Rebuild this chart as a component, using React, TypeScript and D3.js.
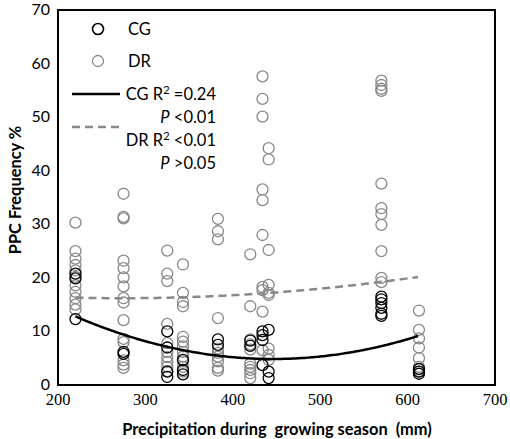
import React from "react";
import * as d3 from "d3";

const W = 510;
const H = 439;

const cgX = [220, 220, 220, 275, 275, 325, 325, 325, 325, 343, 343, 343, 383, 383, 420, 420, 434, 434, 434, 434, 441, 441, 441, 570, 570, 570, 570, 570, 570, 613, 613, 613];
const cgY = [12.3, 19.9, 20.8, 6.2, 5.8, 10.0, 7.0, 2.5, 1.5, 4.7, 2.8, 2.0, 8.5, 7.5, 8.3, 7.3, 10.0, 9.3, 8.4, 3.7, 10.3, 2.5, 1.3, 16.5, 16.0, 15.3, 14.4, 13.3, 12.9, 3.0, 2.5, 2.1];

const drX = [
  220, 220, 220, 220, 220, 220, 220, 220, 220, 220, 220,
  275, 275, 275, 275, 275, 275, 275, 275, 275, 275, 275, 275, 275, 275, 275,
  325, 325, 325, 325, 325, 325, 325, 325, 325, 325,
  343, 343, 343, 343, 343, 343, 343, 343, 343, 343, 343, 343,
  383, 383, 383, 383, 383, 383, 383, 383, 383, 383,
  420, 420, 420, 420, 420, 420, 420, 420, 420, 420,
  434, 434, 434, 434, 434, 434, 434, 434, 434, 434,
  441, 441, 441, 441, 441, 441, 441, 441, 441,
  570, 570, 570, 570, 570, 570, 570, 570, 570, 570, 570,
  613, 613, 613, 613, 613, 613, 613, 613,
];
const drY = [
  30.3, 25.0, 23.6, 22.4, 21.4, 20.2, 18.6, 17.4, 16.2, 15.0, 14.1,
  35.7, 31.4, 31.1, 23.2, 21.8, 20.1, 18.4, 16.2, 15.4, 12.1, 8.6, 8.0, 4.6, 3.8, 3.2,
  25.1, 20.8, 19.4, 11.4, 7.8, 6.2, 5.2, 4.3, 3.4, 2.6,
  22.5, 17.2, 15.5, 14.7, 9.0, 8.1, 7.2, 6.2, 5.3, 4.4, 3.4, 2.5,
  31.0, 28.7, 27.2, 12.5, 6.8, 6.0, 5.3, 4.4, 3.2, 2.7,
  24.4, 14.7, 8.5, 7.6, 6.6, 4.0, 3.4, 2.8, 2.2, 1.3,
  57.6, 53.4, 50.1, 36.5, 34.5, 28.0, 18.3, 17.7, 13.7, 6.5,
  44.2, 42.1, 25.2, 18.7, 17.2, 16.8, 6.8, 5.6, 4.7,
  56.8, 56.0, 55.3, 54.9, 37.6, 33.0, 31.9, 29.9, 25.0, 20.0, 19.2,
  13.9, 10.3, 8.7, 7.0, 5.0, 3.4, 2.9, 2.5,
];

// quadratic fit coefficients [a, b, c] for y = a x^2 + b x + c
const cgFit = [0.00015551, -0.1387, 35.787];
const drFit = [0.00003455, -0.018859, 18.777];
const fitRange = [220, 613];

const xTicks = [200, 300, 400, 500, 600, 700];
const yTicks = [0, 10, 20, 30, 40, 50, 60, 70];

const xLabel = "Precipitation during  growing season  (mm)";
const yLabel = "PPC Frequency %";

export default function App() {
  const left = 58, right = 495, top = 10, bottom = 385;
  const x = d3.scaleLinear().domain([200, 700]).range([left, right]);
  const y = d3.scaleLinear().domain([0, 70]).range([bottom, top]);
  const sans = "Lato, 'Open Sans', sans-serif";
  const serif = "'Liberation Serif', 'DejaVu Serif', serif";

  const samples = d3.range(fitRange[0], fitRange[1] + 0.5, 2);
  const fitLine = (c: number[]) =>
    d3.line<number>()
      .x((v) => x(v))
      .y((v) => y(c[0] * v * v + c[1] * v + c[2]))(samples) as string;

  const r = 5.5;
  const lf = 16.5;
  return (
    <svg width={W} height={H} style={{ position: "absolute", left: 0, top: 0, background: "#fff" }}>
      <rect x={0} y={0} width={W} height={H} fill="#fff" />
      {/* y tick labels */}
      {yTicks.map((t) => (
        <text key={t} x={50} y={y(t) + 5} textAnchor="end" fontFamily={sans} fontSize={16} fill="#000">{t}</text>
      ))}
      {/* x tick labels */}
      {xTicks.map((t) => (
        <text key={t} x={x(t)} y={405} textAnchor="middle" fontFamily={serif} fontSize={16.5} fill="#000">{t}</text>
      ))}
      <text x={277} y={435} textAnchor="middle" fontFamily={sans} fontWeight="bold" fontSize={16.4} fill="#000" style={{ whiteSpace: "pre" }}>{xLabel}</text>
      <text transform={`translate(21,190) rotate(-90)`} textAnchor="middle" fontFamily={sans} fontWeight="bold" fontSize={16.4} fill="#000">{yLabel}</text>

      {/* points */}
      {drX.map((v, i) => (
        <circle key={"d" + i} cx={x(v)} cy={y(drY[i])} r={r} fill="none" stroke="#888" strokeWidth={1.3} />
      ))}
      {cgX.map((v, i) => (
        <circle key={"c" + i} cx={x(v)} cy={y(cgY[i])} r={r} fill="none" stroke="#000" strokeWidth={1.3} />
      ))}
      {/* fits */}
      <path d={fitLine(drFit)} fill="none" stroke="#888" strokeWidth={2.5} strokeDasharray="8,5" />
      <path d={fitLine(cgFit)} fill="none" stroke="#000" strokeWidth={2.5} />

      {/* frame */}
      <rect x={left} y={top} width={right - left} height={bottom - top} fill="none" stroke="#000" strokeWidth={2} />

      {/* legend */}
      <circle cx={98} cy={29} r={r} fill="none" stroke="#000" strokeWidth={1.6} />
      <text x={128} y={35} fontFamily={sans} fontSize={lf} fill="#000">CG</text>
      <circle cx={98} cy={61} r={r} fill="none" stroke="#888" strokeWidth={1.3} />
      <text x={128} y={67} fontFamily={sans} fontSize={lf} fill="#000">DR</text>
      <line x1={72} x2={120} y1={94} y2={94} stroke="#000" strokeWidth={2.5} />
      <text x={216} y={100} textAnchor="end" fontFamily={sans} fontSize={lf} fill="#000">
        CG R<tspan fontSize={11} dy={-6}>2</tspan><tspan dy={6}> =0.24</tspan>
      </text>
      <text x={216} y={123} textAnchor="end" fontFamily={sans} fontSize={lf} fill="#000">
        <tspan fontStyle="italic">P</tspan> &lt;0.01
      </text>
      <line x1={72} x2={124} y1={127} y2={127} stroke="#888" strokeWidth={2.5} strokeDasharray="8,5" />
      <text x={216} y={146} textAnchor="end" fontFamily={sans} fontSize={lf} fill="#000">
        DR R<tspan fontSize={11} dy={-6}>2</tspan><tspan dy={6}> &lt;0.01</tspan>
      </text>
      <text x={216} y={169} textAnchor="end" fontFamily={sans} fontSize={lf} fill="#000">
        <tspan fontStyle="italic">P</tspan> &gt;0.05
      </text>
    </svg>
  );
}
